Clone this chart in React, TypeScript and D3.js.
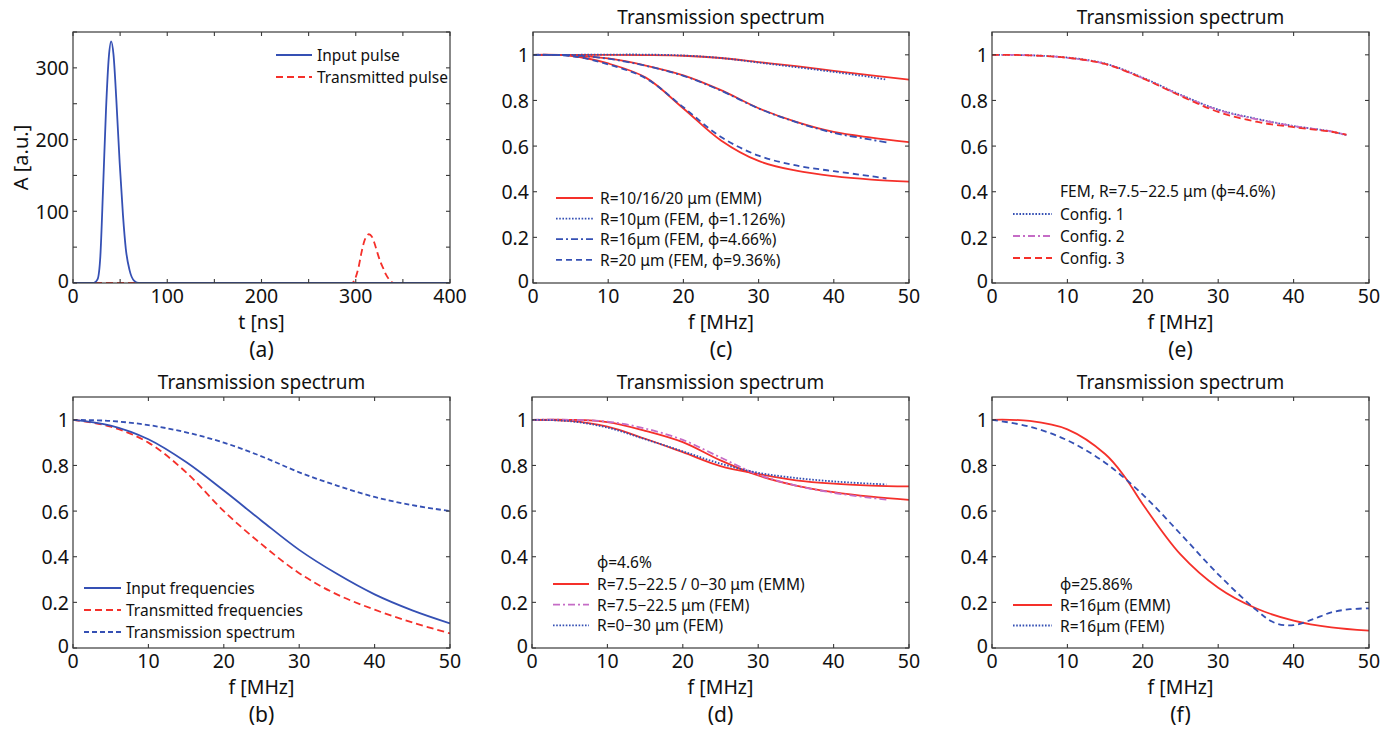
import React from "react";
import * as d3 from "d3";

// ---- data ----
const pulseT = [0, 22, 26, 29, 32, 35, 38, 40.5, 43, 46, 49.5, 53, 56, 60, 65, 70, 400];
const inputPulse = [0, 0, 5, 37, 135, 241, 315, 337, 318, 255, 168, 95, 48, 18, 3, 0, 0];
const transT = [0, 296, 299, 303, 306, 309, 312, 314, 317, 320, 323, 326, 329, 332, 336, 340, 400];
const transPulse = [0, 0, 5, 22, 42, 58, 66, 68, 65, 55, 42, 30, 21, 12, 4, 0, 0];

const freq = [0, 5, 10, 15, 20, 25, 30, 35, 40, 45, 50];
const femFreq = [0, 5, 10, 15, 20, 25, 30, 35, 40, 45, 47];

// (b)
const inputFreq = [1, 0.975, 0.915, 0.815, 0.69, 0.558, 0.43, 0.325, 0.235, 0.165, 0.108];
const transFreq = [1, 0.97, 0.9, 0.77, 0.6, 0.455, 0.328, 0.235, 0.168, 0.112, 0.064];
const transSpec = [1, 0.995, 0.977, 0.945, 0.9, 0.84, 0.77, 0.712, 0.662, 0.626, 0.6];

// (c)
const emm10 = [1, 1, 1, 0.999, 0.996, 0.986, 0.968, 0.95, 0.93, 0.91, 0.891];
const fem10 = [1, 1, 1.001, 1.001, 0.997, 0.986, 0.966, 0.946, 0.925, 0.902, 0.891];
const emm16 = [1, 0.998, 0.984, 0.953, 0.91, 0.845, 0.766, 0.706, 0.662, 0.637, 0.617];
const fem16 = [1, 0.998, 0.983, 0.952, 0.908, 0.843, 0.765, 0.705, 0.658, 0.628, 0.616];
const emm20 = [1, 0.996, 0.962, 0.9, 0.765, 0.625, 0.535, 0.492, 0.468, 0.453, 0.444];
const fem20 = [1, 0.995, 0.958, 0.897, 0.77, 0.64, 0.558, 0.515, 0.49, 0.468, 0.458];

// (d)
const emmWide = [1, 1, 0.99, 0.952, 0.902, 0.822, 0.756, 0.712, 0.683, 0.663, 0.649];
const emmFull = [1, 0.995, 0.97, 0.917, 0.858, 0.797, 0.763, 0.735, 0.72, 0.712, 0.708];
const femWide = [1, 1, 0.992, 0.962, 0.912, 0.835, 0.76, 0.712, 0.68, 0.658, 0.65];
const femFull = [1, 0.994, 0.966, 0.915, 0.862, 0.808, 0.768, 0.745, 0.73, 0.72, 0.717];

// (e)
const config1 = [1, 0.998, 0.988, 0.962, 0.9, 0.825, 0.76, 0.72, 0.688, 0.664, 0.648];
const config2 = [1, 0.998, 0.987, 0.96, 0.898, 0.823, 0.758, 0.718, 0.688, 0.664, 0.648];
const config3 = [1, 0.998, 0.987, 0.96, 0.897, 0.82, 0.75, 0.707, 0.683, 0.663, 0.65];

// (f)
const emmFreqF = [0, 5, 10, 15, 17.5, 20, 25, 30, 35, 40, 45, 50];
const emmHigh = [1, 0.995, 0.958, 0.85, 0.755, 0.63, 0.41, 0.264, 0.174, 0.12, 0.09, 0.076];
const femFreqF = [0, 5, 10, 15, 20, 25, 30, 35, 37.5, 40, 42.5, 45, 47.5, 50];
const femHigh = [1, 0.97, 0.91, 0.812, 0.672, 0.5, 0.323, 0.168, 0.11, 0.1, 0.125, 0.156, 0.17, 0.174];

const RED = "#f5302a";
const BLUE = "#3550b4";
const MAGENTA = "#c56cc6";
const FONT = "'Noto Sans', 'DejaVu Sans', sans-serif";

const SOLID = "none";
const DASH = "7,4";
const SHORTDASH = "5,3";
const DOT = "1.6,1.6";
const DASHDOT = "7,3,2,3";

const zip = (xs, ys) => xs.map((x, i) => [x, ys[i]]);

function Panel({ left, top, width, height, xMax, yMax, xTicks, yTicks, xLabels, yLabels,
  title, xLabel, yLabel, letter, series, legend, id, curve }) {
  const x = d3.scaleLinear().domain([0, xMax]).range([left, left + width]);
  const y = d3.scaleLinear().domain([0, yMax]).range([top + height, top]);
  const line = d3.line().x(d => x(d[0])).y(d => y(d[1])).curve(curve || d3.curveCatmullRom.alpha(0.5));
  const fmt = v => d3.format("~g")(v);
  const tl = 4;
  const bottom = top + height;
  const right = left + width;

  return (
    <g fontFamily={FONT} fill="#111">
      <defs>
        <clipPath id={id}>
          <rect x={left} y={top} width={width} height={height} />
        </clipPath>
      </defs>
      {title && (
        <text x={left + width / 2} y={top - 15} textAnchor="middle" dominantBaseline="central" fontSize={19}>{title}</text>
      )}
      <g clipPath={`url(#${id})`}>
        {series.map((s, i) => (
          <path key={i} d={line(s.pts)} fill="none" stroke={s.color} strokeWidth={1.8}
            strokeDasharray={s.dash} />
        ))}
      </g>
      {/* frame and inward ticks */}
      <rect x={left} y={top} width={width} height={height} fill="none" stroke="#3a3a3a" strokeWidth={1.2} />
      {xTicks.map(t => (
        <g key={"xt" + t} stroke="#3a3a3a" strokeWidth={1.1}>
          <line x1={x(t)} x2={x(t)} y1={bottom} y2={bottom - tl} />
          <line x1={x(t)} x2={x(t)} y1={top} y2={top + tl} />
        </g>
      ))}
      {yTicks.map(t => (
        <g key={"yt" + t} stroke="#3a3a3a" strokeWidth={1.1}>
          <line x1={left} x2={left + tl} y1={y(t)} y2={y(t)} />
          <line x1={right} x2={right - tl} y1={y(t)} y2={y(t)} />
        </g>
      ))}
      {xLabels.map(t => (
        <text key={"xl" + t} x={x(t)} y={bottom + 12} textAnchor="middle" dominantBaseline="central" fontSize={19.5}>{fmt(t)}</text>
      ))}
      {yLabels.map(t => (
        <text key={"yl" + t} x={left - 4} y={y(t) - (t === 0 ? 3 : 0)} textAnchor="end" dominantBaseline="central" fontSize={19.5}>{fmt(t)}</text>
      ))}
      <text x={left + width / 2} y={bottom + 38} textAnchor="middle" dominantBaseline="central" fontSize={19.5}>{xLabel}</text>
      {yLabel && (
        <text transform={`translate(${left - 53},${top + height / 2}) rotate(-90)`} textAnchor="middle" dominantBaseline="central" fontSize={20}>{yLabel}</text>
      )}
      <text x={left + width / 2} y={bottom + 66} textAnchor="middle" dominantBaseline="central" fontSize={21}>{letter}</text>
      {legend && (
        <g fontSize={15.5}>
          {legend.header && (
            <text x={legend.textX} y={legend.headerY} dominantBaseline="central">{legend.header}</text>
          )}
          {legend.items.map((it, i) => {
            const yy = legend.y0 + i * legend.dy;
            return (
              <g key={i}>
                <line x1={legend.x0} x2={legend.x1} y1={yy} y2={yy} stroke={it.color} strokeWidth={1.8} strokeDasharray={it.dash} />
                <text x={legend.textX} y={yy} dominantBaseline="central">{it.label}</text>
              </g>
            );
          })}
        </g>
      )}
    </g>
  );
}

const fTicks = [0, 10, 20, 30, 40, 50];
const sTicks = [0, 0.2, 0.4, 0.6, 0.8, 1];
const L1 = 73, L2 = 533, L3 = 992, W = 377;
const T1 = 32, T2 = 397, H = 251;
const SPEC = "Transmission spectrum";

export default function App() {
  return (
    <svg width={1400} height={729} style={{ position: "absolute", left: 0, top: 0, background: "#fff" }}>
      <Panel id="pa" left={L1} top={T1} width={W} height={H} xMax={400} yMax={350}
        xTicks={d3.range(0, 401, 50)} yTicks={d3.range(0, 351, 50)}
        xLabels={[0, 100, 200, 300, 400]} yLabels={[0, 100, 200, 300]}
        xLabel="t [ns]" yLabel="A [a.u.]" letter="(a)" curve={d3.curveMonotoneX}
        series={[
          { pts: zip(transT, transPulse), color: RED, dash: DASH },
          { pts: zip(pulseT, inputPulse), color: BLUE, dash: SOLID },
        ]}
        legend={{ x0: 276, x1: 312, textX: 317, y0: 55, dy: 22, items: [
          { label: "Input pulse", color: BLUE, dash: SOLID },
          { label: "Transmitted pulse", color: RED, dash: DASH },
        ] }} />
      <Panel id="pb" left={L1} top={T2} width={W} height={H} xMax={50} yMax={1.1}
        xTicks={fTicks} yTicks={sTicks} xLabels={fTicks} yLabels={sTicks}
        title={SPEC} xLabel="f [MHz]" letter="(b)"
        series={[
          { pts: zip(freq, transSpec), color: BLUE, dash: SHORTDASH },
          { pts: zip(freq, transFreq), color: RED, dash: DASH },
          { pts: zip(freq, inputFreq), color: BLUE, dash: SOLID },
        ]}
        legend={{ x0: 84, x1: 121, textX: 126, y0: 588, dy: 22, items: [
          { label: "Input frequencies", color: BLUE, dash: SOLID },
          { label: "Transmitted frequencies", color: RED, dash: DASH },
          { label: "Transmission spectrum", color: BLUE, dash: SHORTDASH },
        ] }} />
      <Panel id="pc" left={L2} top={T1} width={W - 1} height={H} xMax={50} yMax={1.1}
        xTicks={fTicks} yTicks={sTicks} xLabels={fTicks} yLabels={sTicks}
        title={SPEC} xLabel="f [MHz]" letter="(c)"
        series={[
          { pts: zip(freq, emm10), color: RED, dash: SOLID },
          { pts: zip(freq, emm16), color: RED, dash: SOLID },
          { pts: zip(freq, emm20), color: RED, dash: SOLID },
          { pts: zip(femFreq, fem10), color: BLUE, dash: DOT },
          { pts: zip(femFreq, fem16), color: BLUE, dash: DASHDOT },
          { pts: zip(femFreq, fem20), color: BLUE, dash: "6,4" },
        ]}
        legend={{ x0: 556, x1: 593, textX: 600, y0: 198, dy: 20.6, items: [
          { label: "R=10/16/20 μm (EMM)", color: RED, dash: SOLID },
          { label: "R=10μm (FEM, ϕ=1.126%)", color: BLUE, dash: DOT },
          { label: "R=16μm (FEM, ϕ=4.66%)", color: BLUE, dash: DASHDOT },
          { label: "R=20 μm (FEM, ϕ=9.36%)", color: BLUE, dash: "6,4" },
        ] }} />
      <Panel id="pd" left={L2 - 1} top={T2} width={W} height={H} xMax={50} yMax={1.1}
        xTicks={fTicks} yTicks={sTicks} xLabels={fTicks} yLabels={sTicks}
        title={SPEC} xLabel="f [MHz]" letter="(d)"
        series={[
          { pts: zip(freq, emmWide), color: RED, dash: SOLID },
          { pts: zip(freq, emmFull), color: RED, dash: SOLID },
          { pts: zip(femFreq, femWide), color: MAGENTA, dash: DASHDOT },
          { pts: zip(femFreq, femFull), color: BLUE, dash: DOT },
        ]}
        legend={{ header: "ϕ=4.6%", headerY: 562, x0: 553, x1: 589, textX: 597, y0: 584, dy: 20.7, items: [
          { label: "R=7.5−22.5 / 0−30 μm (EMM)", color: RED, dash: SOLID },
          { label: "R=7.5−22.5 μm (FEM)", color: MAGENTA, dash: DASHDOT },
          { label: "R=0−30 μm (FEM)", color: BLUE, dash: DOT },
        ] }} />
      <Panel id="pe" left={L3} top={T1} width={W} height={H} xMax={50} yMax={1.1}
        xTicks={fTicks} yTicks={sTicks} xLabels={fTicks} yLabels={sTicks}
        title={SPEC} xLabel="f [MHz]" letter="(e)"
        series={[
          { pts: zip(femFreq, config1), color: BLUE, dash: DOT },
          { pts: zip(femFreq, config2), color: MAGENTA, dash: DASHDOT },
          { pts: zip(femFreq, config3), color: RED, dash: DASH },
        ]}
        legend={{ header: "FEM, R=7.5−22.5 μm (ϕ=4.6%)", headerY: 191, x0: 1013, x1: 1052, textX: 1060, y0: 214, dy: 22, items: [
          { label: "Config. 1", color: BLUE, dash: DOT },
          { label: "Config. 2", color: MAGENTA, dash: DASHDOT },
          { label: "Config. 3", color: RED, dash: DASH },
        ] }} />
      <Panel id="pf" left={L3} top={T2} width={W} height={H} xMax={50} yMax={1.1}
        xTicks={fTicks} yTicks={sTicks} xLabels={fTicks} yLabels={sTicks}
        title={SPEC} xLabel="f [MHz]" letter="(f)"
        series={[
          { pts: zip(emmFreqF, emmHigh), color: RED, dash: SOLID },
          { pts: zip(femFreqF, femHigh), color: BLUE, dash: "6,4" },
        ]}
        legend={{ header: "ϕ=25.86%", headerY: 584, x0: 1013, x1: 1052, textX: 1060, y0: 605, dy: 20.5, items: [
          { label: "R=16μm (EMM)", color: RED, dash: SOLID },
          { label: "R=16μm (FEM)", color: BLUE, dash: DOT },
        ] }} />
    </svg>
  );
}
